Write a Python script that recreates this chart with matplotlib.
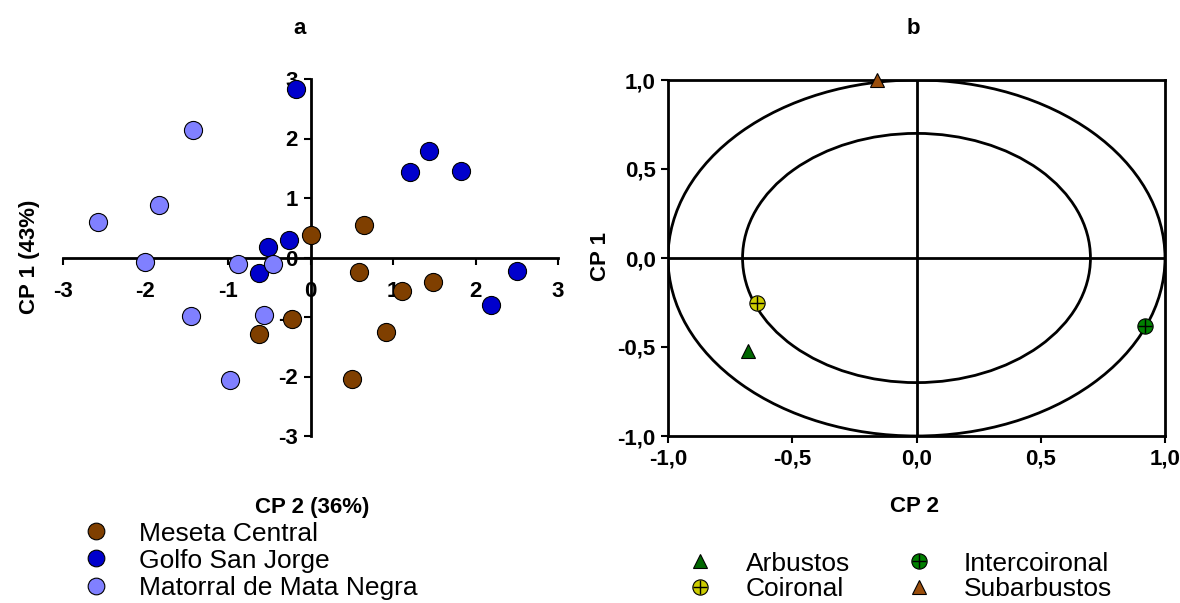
import numpy as np
import matplotlib
matplotlib.use('Agg')
import matplotlib.pyplot as plt
from matplotlib.patches import Circle
from matplotlib.lines import Line2D
from matplotlib.legend_handler import HandlerTuple

plt.rcParams['font.family'] = ['Liberation Sans', 'DejaVu Sans']

# ---------------- data: panel a ----------------
groups = ['Meseta Central', 'Golfo San Jorge', 'Matorral de Mata Negra']
group_colors = ['#7F3F00', '#0000CC', '#8080FF']
meseta_x = [0.00, 0.65, 0.59, 1.49, 1.11, -0.22, -0.62, 0.91, 0.50]
meseta_y = [0.38, 0.54, -0.24, -0.41, -0.56, -1.03, -1.28, -1.25, -2.04]
golfo_x = [-0.17, 1.44, 1.20, 1.82, -0.26, -0.52, -0.62, 2.50, 2.19]
golfo_y = [2.84, 1.79, 1.43, 1.46, 0.30, 0.17, -0.26, -0.22, -0.79]
mata_x = [-1.43, -1.84, -2.58, -2.01, -0.88, -0.46, -1.45, -0.56, -0.97]
mata_y = [2.15, 0.88, 0.60, -0.07, -0.11, -0.11, -0.98, -0.97, -2.06]
ticks_a = [-3, -2, -1, 0, 1, 2, 3]

# ---------------- data: panel b ----------------
veg_names = ['Arbustos', 'Coironal', 'Intercoironal', 'Subarbustos']
veg_x = [-0.68, -0.64, 0.92, -0.16]
veg_y = [-0.52, -0.25, -0.38, 1.00]
veg_markers = ['^', 'o', 'o', '^']
veg_plus = [False, True, True, False]
veg_colors = ['#006600', '#CCCC00', '#008000', '#9A4E0C']
ticks_b = [-1.0, -0.5, 0.0, 0.5, 1.0]
tick_labels_b = ['-1,0', '-0,5', '0,0', '0,5', '1,0']
circle_radii = [1.0, 0.7]

W, H = 1180, 603
fig = plt.figure(figsize=(W / 100, H / 100), dpi=100)

def fx(px):
    return px / W

def fy(py):
    return 1 - py / H

FS = 16
LFS = 19

# ---------------- panel a ----------------
ax1 = fig.add_axes([fx(63), fy(436), fx(558) - fx(63), fy(79) - fy(436)])
ax1.set_xlim(-3, 3)
ax1.set_ylim(-3, 3)
for s in ['top', 'right']:
    ax1.spines[s].set_visible(False)
for s in ['left', 'bottom']:
    ax1.spines[s].set_position(('data', 0))
    ax1.spines[s].set_linewidth(2)
ax1.set_xticks(ticks_a)
ax1.set_yticks(ticks_a)
ax1.set_xticklabels([str(t) for t in ticks_a], fontsize=FS, fontweight='bold')
ax1.set_yticklabels([str(t) for t in ticks_a], fontsize=FS, fontweight='bold')
ax1.tick_params(axis='x', direction='out', length=5, width=1.5, pad=12)
ax1.tick_params(axis='y', direction='out', length=5, width=1.5, pad=4)
ax1.patch.set_visible(False)

series = [(meseta_x, meseta_y), (golfo_x, golfo_y), (mata_x, mata_y)]
for (xs, ys), col in zip(series, group_colors):
    ax1.scatter(xs, ys, s=170, c=col, edgecolors='black', linewidths=0.8,
                zorder=3, clip_on=False)

fig.text(fx(312), fy(507), 'CP 2 (36%)', fontsize=FS, fontweight='bold',
         ha='center', va='center')
fig.text(fx(30), fy(257), 'CP 1 (43%)', fontsize=FS, fontweight='bold',
         ha='center', va='center', rotation=90)
fig.text(fx(300), fy(28), 'a', fontsize=FS, fontweight='bold',
         ha='center', va='center')

handles_a = [Line2D([], [], ls='', marker='o', markersize=12, mfc=c,
                    mec='black', mew=0.8) for c in group_colors]
fig.legend(handles_a, groups, loc='upper left',
           bbox_to_anchor=(fx(70), fy(511)), frameon=False, fontsize=LFS,
           handletextpad=1.0, labelspacing=0.12, borderaxespad=0,
           handlelength=1.2)

# ---------------- panel b ----------------
ax2 = fig.add_axes([fx(668), fy(436), fx(1165) - fx(668), fy(80) - fy(436)])
ax2.set_xlim(-1, 1)
ax2.set_ylim(-1, 1)
for s in ax2.spines.values():
    s.set_linewidth(2)
ax2.set_xticks(ticks_b)
ax2.set_yticks(ticks_b)
ax2.set_xticklabels(tick_labels_b, fontsize=FS, fontweight='bold')
ax2.set_yticklabels(tick_labels_b, fontsize=FS, fontweight='bold')
ax2.tick_params(direction='out', length=5, width=1.5, pad=4)
ax2.axhline(0, color='black', lw=2, zorder=1)
ax2.axvline(0, color='black', lw=2, zorder=1)
for r in circle_radii:
    ax2.add_patch(Circle((0, 0), r, fill=False, ec='black', lw=2, zorder=1))

handles_b = []
for x, y, m, p, c in zip(veg_x, veg_y, veg_markers, veg_plus, veg_colors):
    ms = 10 if m == '^' else 11
    ax2.plot([x], [y], ls='', marker=m, markersize=ms, mfc=c, mec='black',
             mew=0.8, zorder=4, clip_on=False)
    h = Line2D([], [], ls='', marker=m, markersize=ms, mfc=c, mec='black', mew=0.8)
    if p:
        ax2.plot([x], [y], ls='', marker='+', markersize=10, mec='black',
                 mew=1.0, zorder=5, clip_on=False)
        hp = Line2D([], [], ls='', marker='+', markersize=10, mec='black', mew=1.0)
        handles_b.append((h, hp))
    else:
        handles_b.append(h)

fig.text(fx(915), fy(507), 'CP 2', fontsize=FS, fontweight='bold',
         ha='center', va='center')
fig.text(fx(600), fy(257), 'CP 1', fontsize=FS, fontweight='bold',
         ha='center', va='center', rotation=90)
fig.text(fx(913), fy(28), 'b', fontsize=FS, fontweight='bold',
         ha='center', va='center')

fig.legend(handles_b, veg_names, loc='upper left', ncol=2,
           bbox_to_anchor=(fx(674), fy(541)), frameon=False, fontsize=LFS,
           handletextpad=1.12, labelspacing=0.05, borderaxespad=0,
           columnspacing=2.0, handlelength=1.2,
           handler_map={tuple: HandlerTuple(ndivide=1, pad=0)})

fig.savefig('out.png', dpi=100)
